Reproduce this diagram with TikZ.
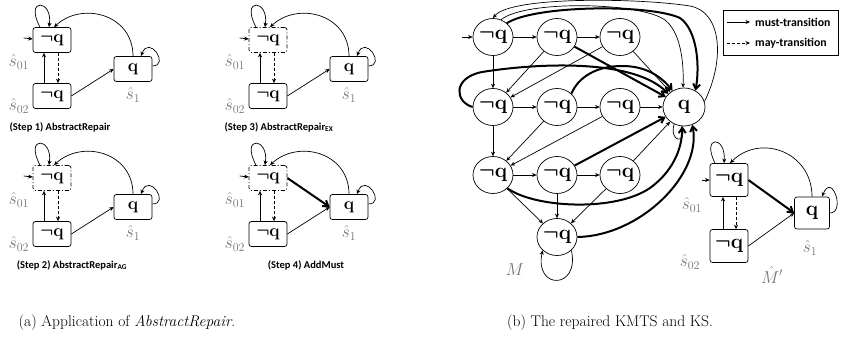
\documentclass[tikz,border=0pt]{standalone}
\usepackage{fontspec}
\newfontfamily\calibri{Carlito}
\usetikzlibrary{arrows.meta,shapes.geometric,calc}

\newcommand{\nq}{{\boldmath$\neg\mathbf{q}$}}
\newcommand{\qq}{{\boldmath$\mathbf{q}$}}

\tikzset{
  ab/.style={draw, rounded corners=2.5pt, line width=0.7pt, minimum width=38pt,
    minimum height=25pt, inner sep=0pt, font=\fontsize{18}{18}\selectfont},
  kb/.style={ab, minimum height=33pt, font=\fontsize{21}{21}\selectfont},
  dashdotbox/.style={dash pattern=on 4pt off 2pt on 1pt off 2pt},
  mst/.style={draw, ellipse, line width=0.7pt, minimum width=40pt, minimum height=37pt,
    inner sep=-3pt, font=\fontsize{21}{21}\selectfont},
  must/.style={line width=0.7pt, -{Stealth[length=4.5pt,width=4pt]}},
  may/.style={must, dash pattern=on 3pt off 2pt},
  added/.style={line width=2pt, -{Straight Barb[length=5pt,width=7pt]}},
  slab/.style={text=black!55, font=\fontsize{17}{17}\selectfont, inner sep=0pt},
  stepcap/.style={font=\calibri\bfseries\fontsize{10.5}{10.5}\selectfont, inner sep=0pt},
  legtext/.style={font=\calibri\bfseries\fontsize{11.8}{11.8}\selectfont, inner sep=0pt, anchor=west},
  capfont/.style={font=\fontsize{15.5}{18}\selectfont, inner sep=0pt},
}

% One abstract KMTS step: prefix, x/y offset, style of s01, caption, caption x
\newcommand{\kmtspanel}[6]{%
  \begin{scope}[shift={(#2,#3)}]
    \node[ab,#4] (#1s01) at (52,40) {\nq};
    \node[ab] (#1s02) at (52,96) {\nq};
    \node[ab] (#1s1) at (133,69) {\qq};
    \node[slab] (#1l01) at (19,62) {$\hat{s}_{01}$};
    \node[slab] (#1l02) at (19,106) {$\hat{s}_{02}$};
    \node[slab] (#1l1) at (133,95) {$\hat{s}_{1}$};
    \node[stepcap] (#1cap) at (#6,127) {#5};
    \draw[must] ($(#1s01.north)+(-12,0)$) .. controls +(-16,-30) and +(4,-28) .. ($(#1s01.north)+(-3,0)$);
    \draw[must] ($(#1s01.west)+(-9,-2)$) -- ($(#1s01.west)+(0,-1)$);
    \draw[must] (#1s1.north) .. controls +(0,-42) and +(28,-26) .. ($(#1s01.north)+(2,0)$);
    \draw[must] ($(#1s1.east)+(0,-3)$) .. controls +(18,0) and +(8,-22) .. ($(#1s1.north)+(8,0)$);
    \draw[must] ($(#1s02.north)+(-8,0)$) -- ($(#1s01.south)+(-8,0)$);
    \draw[may] ($(#1s01.south)+(6,0)$) -- ($(#1s02.north)+(6,0)$);
    \draw[must] (#1s02.east) -- (#1s1.west);
  \end{scope}}

\begin{document}
\begin{tikzpicture}[x=1pt,y=-1pt]
\useasboundingbox (0,0) rectangle (842,345);

% ---------- (a) the four repair steps ----------
\kmtspanel{a}{0}{0}{}{(Step 1) AbstractRepair}{60}
\kmtspanel{c}{216}{0}{dashdotbox}{(Step 3) AbstractRepair\textsubscript{EX}}{63}
\kmtspanel{b}{0}{138}{dashdotbox}{(Step 2) AbstractRepair\textsubscript{AG}}{72}
\kmtspanel{d}{216}{138}{dashdotbox}{(Step 4) AddMust}{90}
\draw[added] (ds01.east) -- (ds1.west);

% ---------- (b) the Kripke structure M ----------
\node[mst] (m11) at (493,37) {\nq};
\node[mst] (m12) at (557,37) {\nq};
\node[mst] (m13) at (620,37) {\nq};
\node[mst] (m21) at (493,107) {\nq};
\node[mst] (m22) at (557,107) {\nq};
\node[mst] (m23) at (620,107) {\nq};
\node[mst, minimum width=42pt, minimum height=38pt] (q) at (684,107) {\qq};
\node[mst] (m31) at (493,175) {\nq};
\node[mst] (m32) at (557,175) {\nq};
\node[mst] (m33) at (620,175) {\nq};
\node[mst] (m4) at (557,237) {\nq};
\node[slab, font=\fontsize{18}{18}\selectfont] (mlab) at (515,270) {$M$};

\coordinate (minit) at (462,37);
\draw[must] (minit) -- (m11);
\draw[must] (m11) -- (m12);
\draw[must] (m12) -- (m13);
\draw[must] (m11) -- (m21);
\draw[must] (m12) -- (m21);
\draw[must] (m13) -- (m21);
\draw[must] (m13) -- (q);
\draw[must] (m21) -- (m22);
\draw[must] (m22) -- (m23);
\draw[must] (m23) -- (q);
\draw[must] (m21) -- (m31);
\draw[must] (m22) -- (m31);
\draw[must] (m23) -- (m31);
\draw[must] (m31) -- (m32);
\draw[must] (m32) -- (m33);
\draw[must] (m31) -- (m4);
\draw[must] (m32) -- (m4);
\draw[must] (m33) -- (m4);
\draw[must] (m33) -- (q);
\draw[must] (m4.south east) .. controls (580,290) and (534,290) .. (m4.south west);
\draw[must] (q.240) .. controls +(-5,18) and +(5,18) .. (q.262);
% arcs over the top
\draw[must] (q.15) .. controls (725,60) and (722,12) .. (690,6) .. controls (640,-2) and (510,-4) .. (m11.north);
\draw[must] (m11.65) .. controls (525,0) and (640,2) .. (665,20) .. controls (680,32) and (684,60) .. (q.93);
% transitions added by the repair
\draw[added] (m11.45) .. controls (535,5) and (650,4) .. (680,18) .. controls (697,30) and (700,65) .. (q.55);
\draw[added] (m12) -- (q);
\draw[added] (m21.west) .. controls (455,102) and (452,78) .. (482,72) .. controls (545,62) and (635,60) .. (q.140);
\draw[added] (m22.north east) .. controls (578,78) and (595,66) .. (622,66) .. controls (648,66) and (662,78) .. (q.125);
\draw[added] (m32) -- (q);
\draw[added] (m31.south east) .. controls (535,208) and (615,212) .. (650,188) .. controls (672,172) and (682,150) .. (q.265);
\draw[added] (m4.east) .. controls (640,236) and (702,175) .. (q.295);

% ---------- legend ----------
\node[draw, line width=0.6pt, minimum width=115pt, minimum height=45pt, inner sep=0pt] (legend) at (780.5,32.5) {};
\coordinate (lg1a) at (727,22);
\coordinate (lg1b) at (750,22);
\coordinate (lg2a) at (727,43);
\coordinate (lg2b) at (750,43);
\draw[must] (lg1a) -- (lg1b);
\draw[may] (lg2a) -- (lg2b);
\node[legtext] (lgt1) at (755,22) {must-transition};
\node[legtext] (lgt2) at (755,43) {may-transition};

% ---------- repaired KMTS M' ----------
\node[kb] (t01) at (729,180) {\nq};
\node[kb] (t02) at (729,246) {\nq};
\node[kb, minimum width=35pt, minimum height=32pt] (t1) at (812,213) {\qq};
\node[slab] (tl01) at (692,205) {$\hat{s}_{01}$};
\node[slab] (tl02) at (690,262) {$\hat{s}_{02}$};
\node[slab] (tl1) at (810,248) {$\hat{s}_{1}$};
\node[slab, font=\fontsize{18}{18}\selectfont] (tlab) at (772,275) {$\hat{M}'$};
\draw[must] ($(t01.north)+(-14,0)$) .. controls +(-14,-28) and +(2,-28) .. ($(t01.north)+(-5,0)$);
\draw[must] ($(t01.west)+(-8,0)$) -- (t01.west);
\draw[must] (t1.north) .. controls +(0,-45) and +(30,-30) .. ($(t01.north)+(1,0)$);
\draw[must] (t1.east) .. controls +(16,0) and +(10,-25) .. ($(t1.north)+(10,0)$);
\draw[must] ($(t02.north)+(-6,0)$) -- ($(t01.south)+(-6,0)$);
\draw[may] ($(t01.south)+(7,0)$) -- ($(t02.north)+(7,0)$);
\draw[added] (t01.east) -- (t1.west);
\draw[must] (t02.east) -- (t1.west);

% ---------- sub-captions ----------
\node[capfont] (capa) at (127,323) {(a) Application of \textit{AbstractRepair}.};
\node[capfont] (capb) at (610,323) {(b) The repaired KMTS and KS.};
\end{tikzpicture}
\end{document}
